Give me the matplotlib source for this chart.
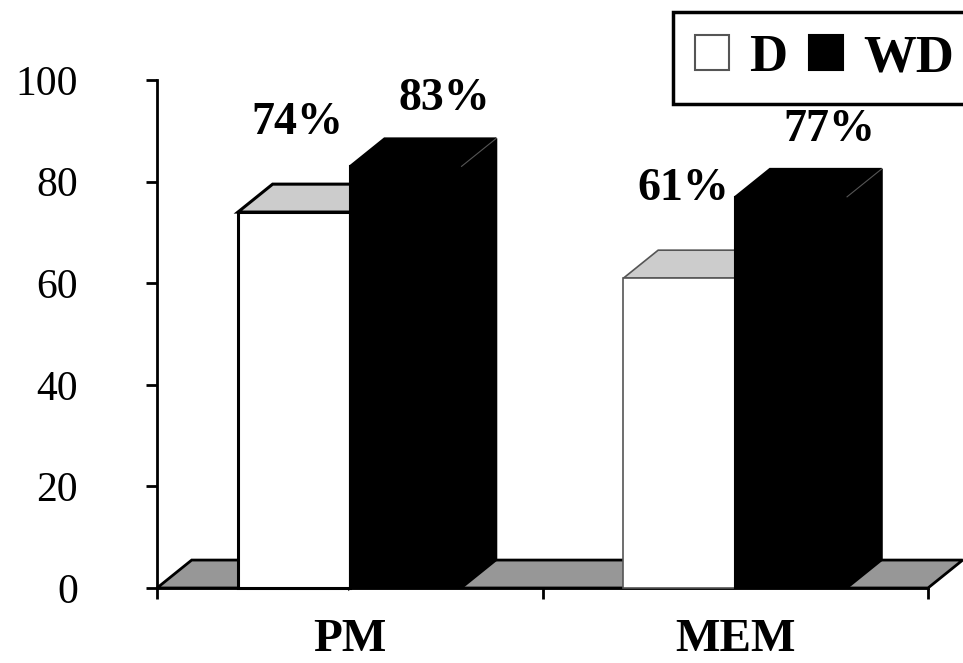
import matplotlib
matplotlib.use("Agg")
import matplotlib.pyplot as plt
from matplotlib.patches import Polygon, Patch

# Porcentajes por grupo
categorias = ["PM", "MEM"]
series = ["D", "WD"]
valores_d = [74, 61]
valores_wd = [83, 77]
yticks = [0, 20, 40, 60, 80, 100]

plt.rcParams["font.family"] = ["Liberation Serif", "DejaVu Serif"]

ANCHO = 0.29      # ancho de cada barra (unidades de categoria)
DX = 0.09         # profundidad en x
DY = 5.5          # profundidad en y


def barra_3d(ax, x0, valor, frente, techo, lado, borde, lw, z):
    """Dibuja una barra con frente, techo y costado en perspectiva."""
    lado_pts = [(x0 + ANCHO, 0), (x0 + ANCHO + DX, DY),
                (x0 + ANCHO + DX, valor + DY), (x0 + ANCHO, valor)]
    techo_pts = [(x0, valor), (x0 + DX, valor + DY),
                 (x0 + ANCHO + DX, valor + DY), (x0 + ANCHO, valor)]
    ax.add_patch(Polygon(lado_pts, closed=True, facecolor=lado, edgecolor=borde,
                         lw=lw, zorder=z, clip_on=False, joinstyle="miter"))
    ax.add_patch(Polygon(techo_pts, closed=True, facecolor=techo, edgecolor=borde,
                         lw=lw, zorder=z, clip_on=False, joinstyle="miter"))
    ax.bar(x0, valor, width=ANCHO, align="edge", color=frente, edgecolor=borde,
           lw=lw, zorder=z + 0.1, clip_on=False)


fig = plt.figure(figsize=(9.63, 6.63), dpi=100)
ax = fig.add_axes([157 / 963, 75 / 663, 771 / 963, 508 / 663])

# piso gris
x_min, x_max = -0.5, len(categorias) - 0.5
piso = [(x_min, 0), (x_min + DX, DY), (x_max + DX, DY), (x_max, 0)]
ax.add_patch(Polygon(piso, closed=True, facecolor="#979797", edgecolor="black",
                     lw=2, zorder=1, clip_on=False))

for i in range(len(categorias)):
    lw_d = 2.2 if i == 0 else 1.2
    borde_d = "black" if i == 0 else "#555555"
    barra_3d(ax, i - ANCHO, valores_d[i], "white", "#cccccc", "white", borde_d, lw_d, 2)
    barra_3d(ax, i, valores_wd[i], "black", "black", "black", "black", 1.5, 3)
    # arista entre techo y costado de la barra negra
    ax.plot([i + ANCHO, i + ANCHO + DX], [valores_wd[i], valores_wd[i] + DY],
            color="#555555", lw=0.8, zorder=4, clip_on=False)

    ax.text(i - ANCHO / 2 + 0.01, valores_d[i] + 17.5, f"{valores_d[i]}%",
            ha="center", va="center", fontsize=33, fontweight="bold")
    ax.text(i + ANCHO / 2 + 0.1, valores_wd[i] + 13.2, f"{valores_wd[i]}%",
            ha="center", va="center", fontsize=33, fontweight="bold")

ax.set_xlim(x_min, x_max)
ax.set_ylim(0, 100)
ax.set_yticks(yticks)
ax.set_yticklabels([str(t) for t in yticks], fontsize=30)
ax.set_xticks([x_min, 0.5, x_max])
ax.set_xticklabels([])
ax.set_xticks(range(len(categorias)), labels=categorias, minor=True)
ax.tick_params(axis="x", which="minor", length=0, pad=22, labelsize=34)
for lbl in ax.get_xticklabels(minor=True):
    lbl.set_fontweight("bold")
ax.tick_params(axis="both", which="major", direction="out", length=8, width=2)
ax.tick_params(axis="y", pad=49)

for lado in ["top", "right"]:
    ax.spines[lado].set_visible(False)
for lado in ["left", "bottom"]:
    ax.spines[lado].set_linewidth(2)
    ax.spines[lado].set_zorder(0.5)

manijas = [Patch(facecolor="white", edgecolor="#555555", lw=1.5),
           Patch(facecolor="black", edgecolor="black", lw=1.5)]
ley = fig.legend(manijas, series, ncol=2, loc="upper left",
                 bbox_to_anchor=(673 / 963, 1 - 12 / 663),
                 prop={"weight": "bold", "size": 38},
                 handlelength=0.65, handleheight=0.65, handletextpad=0.38,
                 columnspacing=0.4, borderpad=0.42, fancybox=False,
                 frameon=True, framealpha=1, borderaxespad=0)
ley.get_frame().set_edgecolor("black")
ley.get_frame().set_linewidth(2.5)

fig.savefig("out.png", dpi=100)
